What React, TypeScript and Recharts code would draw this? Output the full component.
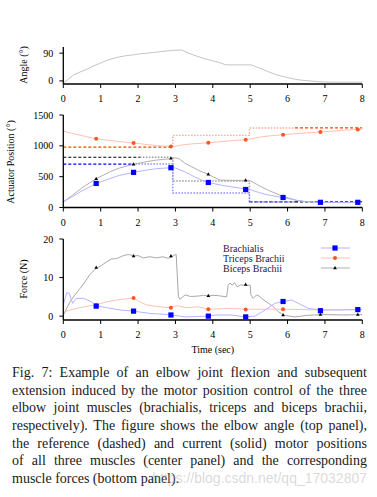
import React from "react";
import { ComposedChart, Line, XAxis, YAxis, Legend } from "recharts";

// time (s) / value pairs
const angle: [number, number][] = [
  [0, -7], [0.1, 2], [0.27, 19], [0.45, 29], [0.63, 38], [0.8, 48], [0.98, 57], [1.15, 66],
  [1.34, 73], [1.5, 78], [1.7, 82], [1.9, 85], [2.05, 88], [2.25, 90], [2.41, 92], [2.6, 95],
  [2.77, 97], [2.95, 99], [3.17, 100], [3.3, 93], [3.48, 84], [3.66, 77], [3.84, 70],
  [4.0, 65], [4.19, 59], [4.35, 52], [5.03, 52], [5.2, 44], [5.44, 32], [5.7, 20],
  [5.98, 11], [6.15, 7], [6.33, 3], [6.6, 0], [6.87, -3], [7.2, -4], [8, -4],
];

const markerT = [0.88, 1.88, 2.88, 3.88, 4.88, 5.88, 6.88, 7.88];

// actuator position, current (solid)
const triPos: [number, number][] = [
  [0, 1240], [0.25, 1200], [0.5, 1165], [0.88, 1115], [1.25, 1085], [1.5, 1070], [1.88, 1045],
  [2.25, 1020], [2.5, 1005], [2.88, 990], [3.0, 995], [3.25, 1020], [3.5, 1035], [3.88, 1050],
  [4.25, 1070], [4.5, 1085], [4.88, 1100], [5.0, 1110], [5.25, 1140], [5.5, 1160],
  [5.88, 1180], [6.25, 1200], [6.5, 1210], [6.88, 1225], [7.25, 1240], [7.5, 1255],
  [7.88, 1265], [8, 1270],
];
const bicPos: [number, number][] = [
  [0, 90], [0.25, 200], [0.5, 320], [0.88, 466], [1.25, 580], [1.5, 640], [1.88, 700],
  [2.25, 745], [2.5, 770], [2.88, 792], [3.0, 805], [3.1, 790], [3.25, 720], [3.5, 640],
  [3.66, 590], [3.88, 540], [4.0, 500], [4.19, 445], [4.5, 440], [4.88, 440], [5.0, 435],
  [5.25, 350], [5.5, 275], [5.88, 180], [6.25, 115], [6.5, 92], [6.88, 84], [8, 82],
];
const braPos: [number, number][] = [
  [0, 90], [0.25, 180], [0.5, 270], [0.88, 390], [1.25, 470], [1.5, 520], [1.88, 570],
  [2.25, 610], [2.5, 630], [2.88, 645], [3.0, 640], [3.25, 580], [3.5, 500], [3.66, 455],
  [3.88, 406], [4.25, 360], [4.5, 335], [4.88, 300], [5.0, 290], [5.25, 240], [5.5, 200],
  [5.88, 162], [6.25, 115], [6.5, 95], [6.88, 84], [8, 82],
];

// actuator position, reference (dashed / dotted parts)
const triRefDash1: [number, number][] = [[0, 980], [2.93, 980]];
const triRefDot: [number, number][] = [[2.93, 980], [2.93, 1170], [4.98, 1170], [4.98, 1290], [6.2, 1290]];
const triRefDash2: [number, number][] = [[6.2, 1290], [8, 1290]];
const bicRefDash1: [number, number][] = [[0, 815], [2.05, 815]];
const bicRefDot: [number, number][] = [[2.05, 815], [2.93, 815], [2.93, 430], [4.98, 430], [4.98, 90], [6.2, 90]];
const bicRefDash2: [number, number][] = [[6.2, 90], [8, 90]];
const braRefDash1: [number, number][] = [[0, 705], [1.85, 705]];
const braRefDot: [number, number][] = [[1.85, 705], [2.93, 705], [2.93, 235], [4.98, 235], [4.98, 90]];
const braRefDash2: [number, number][] = [[4.98, 90], [6.2, 90]];

const triPosMk = [1115, 1045, 990, 1050, 1100, 1180, 1225, 1265];
const bicPosMk = [466, 700, 796, 540, 440, 180, 84, 84];
const braPosMk = [390, 570, 645, 406, 292, 162, 84, 84];

// muscle forces
const bicForce: [number, number][] = [
  [0, 0.2], [0.1, 2.2], [0.18, 3.7], [0.31, 5.5], [0.45, 7.2], [0.58, 8.9], [0.71, 10.8],
  [0.88, 12.4], [1.03, 13.2], [1.16, 14.1], [1.29, 14.8], [1.4, 14.9], [1.47, 15.1],
  [1.56, 15.5], [1.65, 15.8], [1.75, 16.0], [1.88, 15.6], [2.0, 15.7], [2.14, 15.1],
  [2.3, 15.4], [2.5, 15.1], [2.65, 15.4], [2.81, 15.0], [2.9, 15.4], [2.99, 15.9],
  [3.02, 16.0], [3.08, 5.0], [3.12, 4.4], [3.26, 5.5], [3.4, 5.1], [3.61, 5.2], [3.75, 5.4],
  [3.88, 5.2], [4.0, 5.4], [4.15, 5.3], [4.37, 5.0], [4.41, 8.0], [4.46, 8.6], [4.52, 8.0],
  [4.58, 8.7], [4.65, 7.6], [4.75, 8.1], [4.88, 8.0], [5.0, 8.0], [5.02, 5.5], [5.08, 4.6],
  [5.17, 5.5], [5.24, 5.2], [5.31, 4.6], [5.45, 3.6], [5.6, 2.6], [5.75, 1.2], [5.89, 0.3],
  [6.05, 0], [6.2, -0.2], [6.38, 0], [6.5, 0.2], [6.73, 0.3], [7.0, 0.4], [7.5, 0.3], [8, 0.4],
];
const braForce: [number, number][] = [
  [0, 2.9], [0.09, 6.1], [0.16, 5.9], [0.25, 3.3], [0.34, 4.6], [0.54, 4.6], [0.76, 3.7],
  [0.88, 2.7], [1.16, 2.2], [1.52, 1.6], [1.88, 1.3], [2.32, 0.7], [2.85, 0.4], [2.9, 0.3],
  [3.26, -0.2], [3.88, 0], [4.06, 0.3], [4.5, 0.3], [4.86, -0.2], [5.13, 0], [5.4, 1.6],
  [5.66, 3.3], [5.89, 3.8], [6.11, 4.2], [6.38, 2.9], [6.56, 2.0], [6.87, 1.6], [7.18, 1.6],
  [8, 1.7],
];
const triForce: [number, number][] = [
  [0, 1.0], [0.18, 1.6], [0.45, 2.2], [0.71, 2.7], [0.88, 2.9], [1.16, 3.7], [1.52, 4.3],
  [1.88, 4.7], [2.05, 3.7], [2.23, 2.9], [2.59, 2.4], [2.85, 2.2], [2.9, 2.4], [3.08, 2.7],
  [3.26, 2.2], [3.61, 2.4], [3.88, 1.8], [4.5, 2.0], [4.86, 1.8], [5.4, 1.8], [5.89, 1.8],
  [6.87, 1.6], [8, 1.7],
];

const braForceMk = [2.6, 1.3, 0.3, 0, -0.2, 3.8, 1.4, 1.7];
const triForceMk = [2.9, 4.7, 2.2, 1.8, 1.7, 1.8, 1.6, 1.7];
const bicForceMk = [12.6, 15.6, 15.6, 5.3, 8.2, 0.3, 0.4, 0.4];

const xTicks = [0, 1, 2, 3, 4, 5, 6, 7, 8];

const caption = [
  "Fig. 7: Example of an elbow joint flexion and subsequent",
  "extension induced by the motor position control of the three",
  "elbow joint muscles (brachialis, triceps and biceps brachii,",
  "respectively). The figure shows the elbow angle (top panel),",
  "the reference (dashed) and current (solid) motor positions",
  "of all three muscles (center panel) and the corresponding",
  "muscle forces (bottom panel).",
];

const pts = (arr: [number, number][]) => arr.map(([t, v]) => ({ t, v }));
const mk = (vals: number[]) => vals.map((v, i) => ({ t: markerT[i], v }));

const SERIF = "'Liberation Serif', 'Times New Roman', serif";
const BLUE = "#0000ff";
const ORANGE = "#ff5522";

const Square = (p: any) =>
  p.cx == null ? <g key={p.index} /> : <rect key={p.index} x={p.cx - 2.6} y={p.cy - 2.6} width={5.2} height={5.2} fill={BLUE} />;
const Dot = (p: any) =>
  p.cx == null ? <g key={p.index} /> : <circle key={p.index} cx={p.cx} cy={p.cy} r={2} fill={ORANGE} />;
const Tri = (p: any) =>
  p.cx == null ? (
    <g key={p.index} />
  ) : (
    <path key={p.index} d={`M${p.cx},${p.cy - 2} L${p.cx + 1.8},${p.cy + 1.2} L${p.cx - 1.8},${p.cy + 1.2} Z`} fill="#000" />
  );

const tickStyle = { fill: "#000", fontSize: 10, fontFamily: SERIF };

function XAx({ height = 21, label }: { height?: number; label?: any }) {
  return (
    <XAxis
      dataKey="t"
      type="number"
      domain={[0, 8]}
      ticks={xTicks}
      allowDataOverflow
      height={height}
      tick={tickStyle}
      tickSize={4}
      tickMargin={7}
      axisLine={{ stroke: "#000", strokeWidth: 1.3 }}
      tickLine={{ stroke: "#000", strokeWidth: 1 }}
      label={label}
    />
  );
}

function yTitle(text: string, x: number, y: number) {
  return () => (
    <text
      x={x}
      y={y}
      transform={`rotate(-90 ${x} ${y})`}
      textAnchor="middle"
      dominantBaseline="central"
      fontSize={10}
      fontFamily={SERIF}
      fill="#000"
    >
      {text}
    </text>
  );
}

function YAx({ domain, ticks, title }: { domain: number[]; ticks: number[]; title: any }) {
  return (
    <YAxis
      type="number"
      domain={domain}
      ticks={ticks}
      allowDataOverflow
      width={40}
      tick={tickStyle}
      tickSize={4}
      tickMargin={6}
      axisLine={{ stroke: "#000", strokeWidth: 1.3 }}
      tickLine={{ stroke: "#000", strokeWidth: 1 }}
      label={title}
    />
  );
}

function ln(key: string, data: [number, number][], stroke: string, dash?: string, width = 1) {
  return (
    <Line
      key={key}
      name={key}
      data={pts(data)}
      dataKey="v"
      type="linear"
      stroke={stroke}
      strokeWidth={width}
      strokeDasharray={dash}
      dot={false}
      activeDot={false}
      legendType="none"
      isAnimationActive={false}
    />
  );
}

function marks(key: string, vals: number[], shape: any) {
  return (
    <Line
      key={key}
      name={key}
      data={mk(vals)}
      dataKey="v"
      stroke="none"
      dot={shape}
      activeDot={false}
      legendType="none"
      isAnimationActive={false}
    />
  );
}

const legendRows = [
  { name: "Brachialis", color: "#b4b4ff", shape: "square" },
  { name: "Triceps Brachii", color: "#ffc0b0", shape: "circle" },
  { name: "Biceps Brachii", color: "#b0b0b0", shape: "tri" },
];

function ForceLegend() {
  return (
    <svg width={140} height={34}>
      {legendRows.map((r, i) => {
        const y = 4 + i * 10;
        return (
          <g key={r.name}>
            <text x={0} y={y} dominantBaseline="central" fontSize={10} fontFamily={SERIF} fill="#1a1a40">
              {r.name}
            </text>
            <line x1={98} x2={127} y1={y} y2={y} stroke={r.color} strokeWidth={1} />
            {r.shape === "square" && <rect x={109.4} y={y - 2.6} width={5.2} height={5.2} fill={BLUE} />}
            {r.shape === "circle" && <circle cx={112} cy={y} r={2} fill={ORANGE} />}
            {r.shape === "tri" && <path d={`M112,${y - 2} L113.8,${y + 1.2} L110.2,${y + 1.2} Z`} fill="#000" />}
          </g>
        );
      })}
    </svg>
  );
}

export default function App() {
  return (
    <div
      style={{
        position: "absolute",
        left: 0,
        top: 0,
        width: 377,
        height: 497,
        background: "#fff",
        fontFamily: SERIF,
        overflow: "hidden",
      }}
    >
      {/* top panel: elbow angle */}
      <div style={{ position: "absolute", left: 0, top: 0 }}>
        <ComposedChart width={377} height={105} margin={{ top: 47, right: 14.7, bottom: 0, left: 23.3 }}>
          <XAx />
          <YAx domain={[-10, 110]} ticks={[0, 90]} title={yTitle("Angle (°)", 23, 65)} />
          {ln("angle", angle, "#c4c4c4")}
        </ComposedChart>
      </div>

      {/* center panel: actuator positions */}
      <div style={{ position: "absolute", left: 0, top: 105 }}>
        <ComposedChart width={377} height={125} margin={{ top: 10, right: 14.7, bottom: 1.5, left: 23.3 }}>
          <XAx />
          <YAx domain={[0, 1500]} ticks={[0, 500, 1000, 1500]} title={yTitle("Actuator Position (°)", 10, 57)} />
          {ln("triRefDot", triRefDot, "#ffa898", "1.5 1.5", 1.4)}
          {ln("bicRefDot", bicRefDot, "#9a9a9a", "1.5 1.5", 1.4)}
          {ln("braRefDot", braRefDot, "#8c8cff", "1.5 1.5", 1.4)}
          {ln("triRefDash1", triRefDash1, "#ff4400", "3 2", 1.2)}
          {ln("triRefDash2", triRefDash2, "#ff4400", "3 2", 1.2)}
          {ln("bicRefDash1", bicRefDash1, "#000", "3 2", 1.2)}
          {ln("bicRefDash2", bicRefDash2, "#000", "3 2", 1.2)}
          {ln("braRefDash1", braRefDash1, BLUE, "3 2", 1.2)}
          {ln("braRefDash2", braRefDash2, "#3030ff", "3 2", 1.2)}
          {ln("triPos", triPos, "#ffc0b0")}
          {ln("bicPos", bicPos, "#b0b0b0")}
          {ln("braPos", braPos, "#b4b4ff")}
          {marks("triPosMk", triPosMk, Dot)}
          {marks("bicPosMk", bicPosMk, Tri)}
          {marks("braPosMk", braPosMk, Square)}
        </ComposedChart>
      </div>

      {/* bottom panel: muscle forces */}
      <div style={{ position: "absolute", left: 0, top: 230 }}>
        <ComposedChart width={377} height={132} margin={{ top: 9, right: 14.7, bottom: 6, left: 23.3 }}>
          <XAx
            height={36}
            label={{ value: "Time (sec)", position: "insideBottom", offset: 3, fill: "#000", fontSize: 10, fontFamily: SERIF }}
          />
          <YAx domain={[-1, 20]} ticks={[0, 10, 20]} title={yTitle("Force (N)", 23, 49)} />
          <Legend
            layout="vertical"
            align="center"
            verticalAlign="middle"
            content={() => <ForceLegend />}
            wrapperStyle={{ left: 223, top: 14, width: 140, height: 34 }}
          />
          {ln("bicForce", bicForce, "#a8a8a8")}
          {ln("triForce", triForce, "#ffc0b0")}
          {ln("braForce", braForce, "#b4b4ff")}
          {marks("bicForceMk", bicForceMk, Tri)}
          {marks("triForceMk", triForceMk, Dot)}
          {marks("braForceMk", braForceMk, Square)}
        </ComposedChart>
      </div>

      {/* caption */}
      <div style={{ position: "absolute", left: 12, top: 364, width: 355, fontSize: 14, color: "#1a1a1a" }}>
        {caption.map((line, i) => (
          <div
            key={i}
            style={{
              height: 17.7,
              lineHeight: "17.7px",
              whiteSpace: "nowrap",
              textAlign: i < caption.length - 1 ? "justify" : "left",
              textAlignLast: i < caption.length - 1 ? "justify" : "left",
            }}
          >
            {line}
          </div>
        ))}
      </div>
      <div
        style={{
          position: "absolute",
          right: 10,
          top: 470,
          fontFamily: "'Liberation Sans', Arial, sans-serif",
          fontSize: 14,
          color: "rgba(170,170,170,0.45)",
        }}
      >
        https://blog.csdn.net/qq_17032807
      </div>
    </div>
  );
}
